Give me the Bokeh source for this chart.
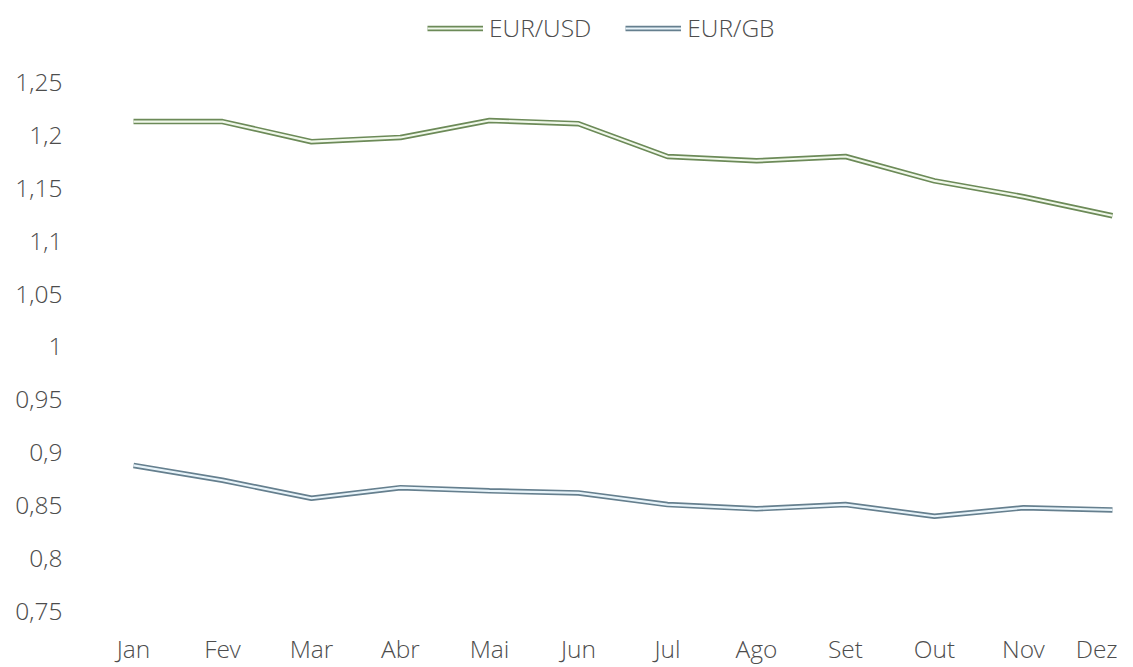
from bokeh.plotting import figure
from bokeh.models import FixedTicker, Legend, LegendItem, ColumnDataSource
from bokeh.embed import file_html
from bokeh.resources import INLINE

months = ["Jan", "Fev", "Mar", "Abr", "Mai", "Jun", "Jul", "Ago", "Set", "Out", "Nov", "Dez"]
eur_usd = [1.213, 1.213, 1.194, 1.198, 1.214, 1.211, 1.180, 1.176, 1.180, 1.157, 1.142, 1.124]
eur_gb = [0.888, 0.874, 0.857, 0.867, 0.864, 0.862, 0.851, 0.847, 0.851, 0.840, 0.848, 0.846]
y_ticks = [0.75, 0.8, 0.85, 0.9, 0.95, 1.0, 1.05, 1.1, 1.15, 1.2, 1.25]
y_tick_labels = ["0,75", "0,8", "0,85", "0,9", "0,95", "1", "1,05", "1,1", "1,15", "1,2", "1,25"]

FONT = "Open Sans Light"
TXT = "#4d4d4d"
FS = "24.5px"

x = list(range(len(months)))
src = ColumnDataSource(dict(x=x, usd=eur_usd, gb=eur_gb))

p = figure(width=1117, height=670, output_backend="svg", toolbar_location=None,
           x_range=(-0.708, 11.034), y_range=(0.732, 1.318),
           min_border_left=70, min_border_right=2, min_border_top=10, min_border_bottom=40)
p.outline_line_color = None
p.grid.visible = False
p.background_fill_color = "white"

usd_o = p.line("x", "usd", source=src, line_color="#6c8a58", line_width=5.5)
usd_i = p.line("x", "usd", source=src, line_color="#f0f8ea", line_width=2.2)
gb_o = p.line("x", "gb", source=src, line_color="#657f8e", line_width=5.5)
gb_i = p.line("x", "gb", source=src, line_color="#e8f4fa", line_width=2.2)

for ax in (p.xaxis[0], p.yaxis[0]):
    ax.axis_line_color = None
    ax.major_tick_line_color = None
    ax.minor_tick_line_color = None
    ax.major_tick_out = 0
    ax.major_tick_in = 0
    ax.minor_tick_out = 0
    ax.minor_tick_in = 0
    ax.major_label_text_font = FONT
    ax.major_label_text_font_size = FS
    ax.major_label_text_color = TXT

p.xaxis.ticker = FixedTicker(ticks=x)
p.xaxis.major_label_overrides = {i: m for i, m in enumerate(months)}
p.xaxis.major_label_standoff = 1

p.yaxis.ticker = FixedTicker(ticks=y_ticks)
p.yaxis.major_label_overrides = {t: l for t, l in zip(y_ticks, y_tick_labels)}
p.yaxis.major_label_standoff = 8

legend = Legend(items=[LegendItem(label="EUR/USD", renderers=[usd_o, usd_i]),
                       LegendItem(label="EUR/GB", renderers=[gb_o, gb_i])],
                location=(357, 586), orientation="horizontal",
                glyph_width=56, glyph_height=20, label_standoff=6, spacing=34,
                padding=0, margin=0, border_line_color=None, background_fill_alpha=0,
                label_text_font=FONT, label_text_font_size=FS, label_text_color=TXT)
p.add_layout(legend, "center")

open("out.html", "w").write(file_html(p, INLINE))
